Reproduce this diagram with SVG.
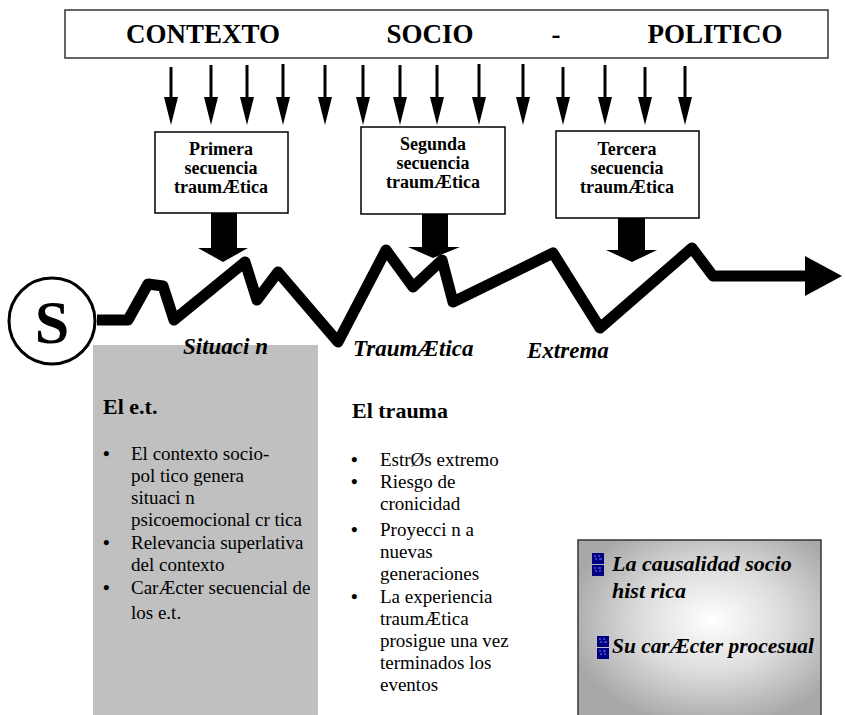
<svg xmlns="http://www.w3.org/2000/svg" width="845" height="715" viewBox="0 0 845 715">
<style>
.ser{font-family:"Liberation Serif","Times New Roman",serif;fill:#000}
.title{font-size:27px;font-weight:bold}
.box{fill:#fff;stroke:#000;stroke-width:1.5}
.seq{font-size:18px;font-weight:bold;text-anchor:middle}
.lbl{font-size:23px;font-weight:bold;font-style:italic}
.head{font-size:22px;font-weight:bold}
.body{font-size:19px}
.bul{font-weight:bold}
.big{font-size:22px;font-weight:bold;font-style:italic}
.shaft{stroke:#000;stroke-width:3}
</style>
<defs>
<radialGradient id="g" cx="0.55" cy="0.45" r="0.6">
<stop offset="0" stop-color="#ffffff"/>
<stop offset="0.5" stop-color="#dcdcdc"/>
<stop offset="1" stop-color="#a8a8a8"/>
</radialGradient>
<g id="ico">
<rect x="0" y="0" width="12" height="11" fill="#000080"/>
<rect x="0" y="12" width="12" height="11" fill="#000080"/>
<path d="M2 3h2M6 3h2M3 6h2M7 6h3M2 15h2M6 15h3M3 18h2M7 18h2" stroke="#8080ff" stroke-width="1"/>
</g>
</defs>

<g id="title">
<rect x="65" y="10" width="763" height="48" fill="#fff" stroke="#333" stroke-width="1.5"/>
<text class="ser title" x="203" y="43" text-anchor="middle">CONTEXTO</text>
<text class="ser title" x="430" y="43" text-anchor="middle">SOCIO</text>
<text class="ser title" x="556" y="43" text-anchor="middle">-</text>
<text class="ser title" x="715" y="43" text-anchor="middle">POLITICO</text>
</g>

<g id="connectors">
<g id="small-arrows">
<line class="shaft" x1="171" y1="67" x2="171" y2="98"/><polygon points="164,97 178,97 171,125"/>
<line class="shaft" x1="211" y1="65" x2="211" y2="98"/><polygon points="204,97 218,97 211,125"/>
<line class="shaft" x1="247" y1="65" x2="247" y2="98"/><polygon points="240,97 254,97 247,125"/>
<line class="shaft" x1="283" y1="64" x2="283" y2="98"/><polygon points="276,97 290,97 283,125"/>
<line class="shaft" x1="325" y1="65" x2="325" y2="98"/><polygon points="318,97 332,97 325,125"/>
<line class="shaft" x1="363" y1="65" x2="363" y2="98"/><polygon points="356,97 370,97 363,125"/>
<line class="shaft" x1="400" y1="65" x2="400" y2="98"/><polygon points="393,97 407,97 400,125"/>
<line class="shaft" x1="437" y1="65" x2="437" y2="98"/><polygon points="430,97 444,97 437,125"/>
<line class="shaft" x1="479" y1="64" x2="479" y2="98"/><polygon points="472,97 486,97 479,125"/>
<line class="shaft" x1="523" y1="64" x2="523" y2="98"/><polygon points="516,97 530,97 523,125"/>
<line class="shaft" x1="563" y1="67" x2="563" y2="98"/><polygon points="556,97 570,97 563,125"/>
<line class="shaft" x1="605" y1="65" x2="605" y2="98"/><polygon points="598,97 612,97 605,125"/>
<line class="shaft" x1="645" y1="67" x2="645" y2="98"/><polygon points="638,97 652,97 645,125"/>
<line class="shaft" x1="685" y1="66" x2="685" y2="98"/><polygon points="678,97 692,97 685,125"/>
</g>
<g id="block-arrows">
<polygon points="211,213 237,213 237,248 248,248 223,262 198,248 211,248"/>
<polygon points="422,214 448,214 448,247 460,247 433,258 408,247 422,247"/>
<polygon points="618,218 645,218 645,250 657,250 632,262 606,250 618,250"/>
</g>
<g id="zigzag">
<polyline points="97,320 128,320 148,284 163,286 174,320 245,262 257,300 278,272 338,342 386,250 413,287 442,260 453,302 553,253 600,328 692,248 713,276 806,276" fill="none" stroke="#000" stroke-width="11" stroke-linejoin="round"/>
<polygon points="805,256 842,276 805,296"/>
</g>
</g>

<g id="primera">
<rect class="box" x="155" y="132" width="133" height="81"/>
<text class="ser seq" x="221" y="155">Primera</text>
<text class="ser seq" x="221" y="174">secuencia</text>
<text class="ser seq" x="221" y="193">traumÆtica</text>
</g>
<g id="segunda">
<rect class="box" x="361" y="127" width="144" height="87"/>
<text class="ser seq" x="433" y="150">Segunda</text>
<text class="ser seq" x="433" y="169">secuencia</text>
<text class="ser seq" x="433" y="188">traumÆtica</text>
</g>
<g id="tercera">
<rect class="box" x="556" y="131" width="143" height="87"/>
<text class="ser seq" x="627" y="155">Tercera</text>
<text class="ser seq" x="627" y="174">secuencia</text>
<text class="ser seq" x="627" y="193">traumÆtica</text>
</g>

<g id="s-node">
<circle cx="52" cy="321" r="43" fill="#fff" stroke="#000" stroke-width="3"/>
<text class="ser" x="52" y="343" text-anchor="middle" font-size="62" font-weight="bold">S</text>
</g>

<g id="et-box">
<rect x="93" y="345" width="225" height="370" fill="#c0c0c0"/>
<text class="ser head" x="103" y="414">El e.t.</text>
<g class="ser body">
<text class="bul" x="103" y="460">•</text>
<text x="131" y="460">El contexto socio-</text>
<text x="131" y="482">pol tico genera</text>
<text x="131" y="504">situaci  n</text>
<text x="131" y="526">psicoemocional cr tica</text>
<text class="bul" x="103" y="549">•</text>
<text x="131" y="549">Relevancia superlativa</text>
<text x="131" y="571">del contexto</text>
<text class="bul" x="103" y="594">•</text>
<text x="131" y="594">CarÆcter secuencial de</text>
<text x="131" y="619">los e.t.</text>
</g>
</g>

<g id="labels">
<text class="ser lbl" x="183" y="354">Situaci  n</text>
<text class="ser lbl" x="353" y="356">TraumÆtica</text>
<text class="ser lbl" x="527" y="358">Extrema</text>
</g>

<g id="trauma">
<text class="ser head" x="352" y="418">El trauma</text>
<g class="ser body">
<text class="bul" x="351" y="466">•</text>
<text x="380" y="466">EstrØs extremo</text>
<text class="bul" x="351" y="488">•</text>
<text x="380" y="488">Riesgo de</text>
<text x="380" y="510">cronicidad</text>
<text class="bul" x="351" y="536">•</text>
<text x="380" y="536">Proyecci  n a</text>
<text x="380" y="558">nuevas</text>
<text x="380" y="580">generaciones</text>
<text class="bul" x="351" y="603">•</text>
<text x="380" y="603">La experiencia</text>
<text x="380" y="625">traumÆtica</text>
<text x="380" y="647">prosigue una vez</text>
<text x="380" y="669">terminados los</text>
<text x="380" y="691">eventos</text>
</g>
</g>

<g id="summary">
<rect x="578" y="540" width="243" height="178" fill="url(#g)" stroke="#333" stroke-width="1.5"/>
<use href="#ico" x="592" y="553"/>
<use href="#ico" x="597" y="636"/>
<text class="ser big" x="612" y="571">La causalidad socio</text>
<text class="ser big" x="612" y="598">hist  rica</text>
<text class="ser big" x="612" y="653" textLength="202" lengthAdjust="spacingAndGlyphs">Su carÆcter procesual</text>
</g>
</svg>
